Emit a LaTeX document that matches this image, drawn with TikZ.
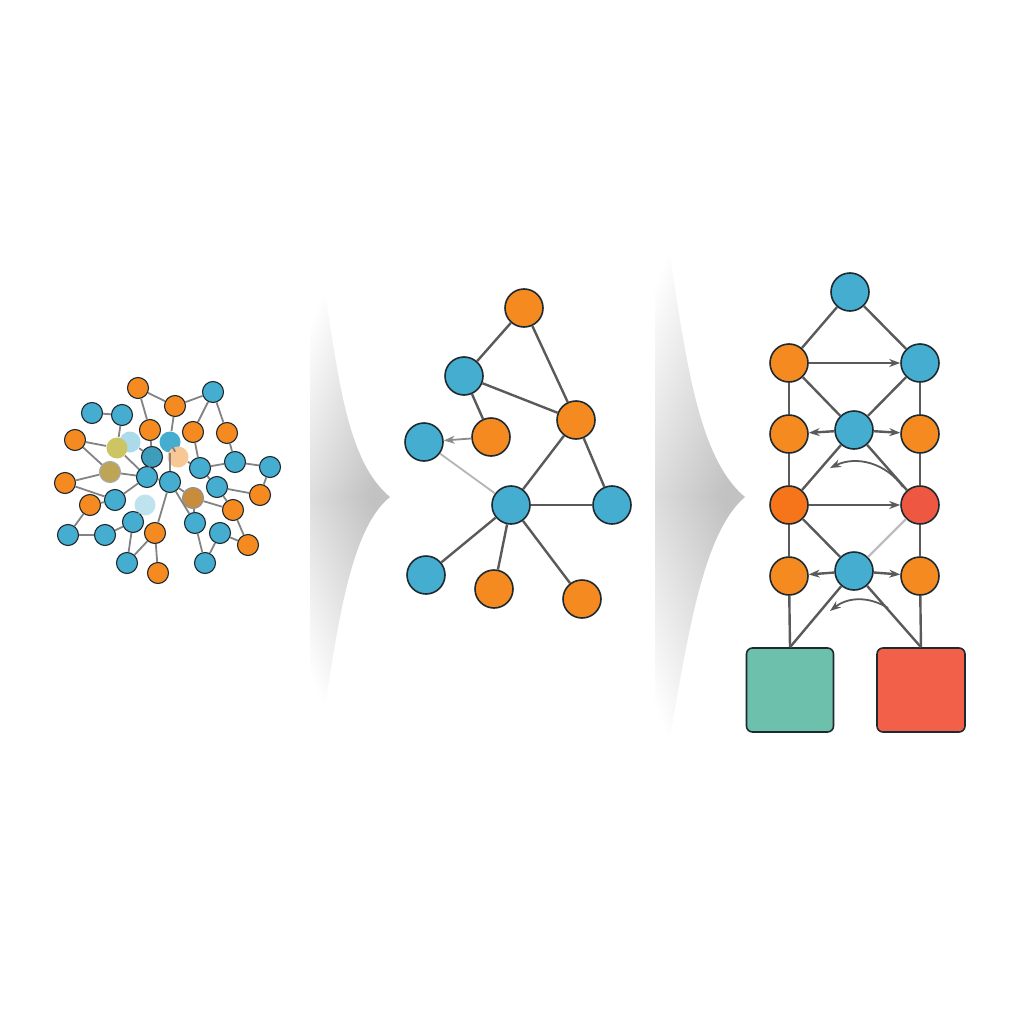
\documentclass[tikz,border=0pt]{standalone}
\usepackage{tikz}
\usepackage{xcolor}
\usetikzlibrary{arrows, arrows.meta, automata}
\definecolor{blu}{HTML}{45AED0}
\definecolor{orng}{HTML}{F58A20}
\definecolor{rd}{HTML}{EE5843}
\definecolor{sqred}{HTML}{F2604A}
\definecolor{tl}{HTML}{6CC0AC}
\definecolor{ol}{HTML}{1E2A30}
\definecolor{gr}{HTML}{5A5A5A}

\begin{document}
\begin{tikzpicture}[
            x = 1pt, y = -1pt, % one unit per pixel, y downwards
            > = {Stealth[length = 11pt, width = 8pt]}, % arrow head style
            semithick % line style
        ]

        \tikzstyle{every state}=[
            draw = ol,
            line width = 1.6pt,
            minimum size = 38pt,
            inner sep = 0pt
        ]
        \tikzstyle{cnode}=[state, minimum size = 21pt, line width = 1.1pt]
        \tikzstyle{link}=[draw = gr, line width = 2.4pt]
        \tikzstyle{thin link}=[draw = gr!75, line width = 1.8pt]
        \tikzstyle{fan top}=[shading = axis, top color = white, bottom color = black!24,
            shading angle = 68]
        \tikzstyle{fan bottom}=[shading = axis, top color = black!24, bottom color = white,
            shading angle = -68]

        % page
        \fill[white] (0,0) rectangle (1024,1024);
        \useasboundingbox (0,0) rectangle (1024,1024);

        % fading arrows
        \shade[fan top] (322,275) .. controls (338,370) and (345,460) .. (390,497)
            -- (310,497) -- (310,275) -- cycle;
        \shade[fan bottom] (390,497) .. controls (348,530) and (336,640) .. (322,725)
            -- (310,725) -- (310,497) -- cycle;
        \shade[fan top] (665,225) .. controls (684,340) and (694,455) .. (745,497)
            -- (655,497) -- (655,225) -- cycle;
        \shade[fan bottom] (745,497) .. controls (700,535) and (686,650) .. (665,765)
            -- (655,765) -- (655,497) -- cycle;

        % cluster
        \node[cnode, fill = orng] (c1) [at={(138,388)}] {};
        \node[cnode, fill = blu] (c2) [at={(213,392)}] {};
        \node[cnode, fill = orng] (c3) [at={(175,406)}] {};
        \node[cnode, fill = blu] (c4) [at={(92,413)}] {};
        \node[cnode, fill = blu] (c5) [at={(122,415)}] {};
        \node[cnode, fill = orng] (c6) [at={(150,430)}] {};
        \node[cnode, fill = orng] (c7) [at={(193,432)}] {};
        \node[cnode, fill = orng] (c8) [at={(227,433)}] {};
        \node[cnode, fill = orng] (c9) [at={(75,440)}] {};
        \node[cnode, fill = blu!45, draw = none] (c10) [at={(130,442)}] {};
        \node[cnode, fill = blu, draw = none] (c11) [at={(170,442)}] {};
        \node[cnode, fill = {rgb,255:red,205;green,196;blue,100}, draw = none] (c12) [at={(117,448)}] {};
        \node[cnode, fill = blu!90!black] (c13) [at={(152,457)}] {};
        \node[cnode, fill = {rgb,255:red,247;green,200;blue,150}, draw = none] (c14) [at={(178,457)}] {};
        \node[cnode, fill = blu] (c15) [at={(235,462)}] {};
        \node[cnode, fill = blu] (c16) [at={(270,467)}] {};
        \node[cnode, fill = blu] (c17) [at={(200,468)}] {};
        \node[cnode, fill = {rgb,255:red,190;green,165;blue,85}, draw = ol!40] (c18) [at={(110,472)}] {};
        \node[cnode, fill = blu] (c19) [at={(147,477)}] {};
        \node[cnode, fill = blu] (c20) [at={(170,482)}] {};
        \node[cnode, fill = orng] (c21) [at={(65,483)}] {};
        \node[cnode, fill = blu] (c22) [at={(217,487)}] {};
        \node[cnode, fill = orng] (c23) [at={(260,495)}] {};
        \node[cnode, fill = {rgb,255:red,200;green,140;blue,60}, draw = ol!50] (c24) [at={(193,498)}] {};
        \node[cnode, fill = blu] (c25) [at={(115,500)}] {};
        \node[cnode, fill = orng] (c26) [at={(90,505)}] {};
        \node[cnode, fill = blu!35, draw = none] (c27) [at={(145,505)}] {};
        \node[cnode, fill = orng] (c28) [at={(233,510)}] {};
        \node[cnode, fill = blu] (c29) [at={(133,522)}] {};
        \node[cnode, fill = blu] (c30) [at={(195,523)}] {};
        \node[cnode, fill = orng] (c31) [at={(155,533)}] {};
        \node[cnode, fill = blu] (c32) [at={(220,533)}] {};
        \node[cnode, fill = blu] (c33) [at={(68,535)}] {};
        \node[cnode, fill = blu] (c34) [at={(105,535)}] {};
        \node[cnode, fill = orng] (c35) [at={(248,545)}] {};
        \node[cnode, fill = blu] (c36) [at={(127,563)}] {};
        \node[cnode, fill = blu] (c37) [at={(205,563)}] {};
        \node[cnode, fill = orng] (c38) [at={(158,573)}] {};

        \path[thin link] (c1) edge (c6) (c1) edge (c3) (c2) edge (c3) (c2) edge (c7)
            (c2) edge (c8) (c3) edge (c11) (c4) edge (c5) (c5) edge (c12)
            (c6) edge (c13) (c9) edge (c12) (c9) edge (c18) (c10) edge (c13)
            (c11) edge (c14) (c7) edge (c17) (c8) edge (c15) (c14) edge (c17)
            (c17) edge (c15) (c15) edge (c16) (c17) edge (c22) (c13) edge (c19)
            (c12) edge (c19) (c18) edge (c19) (c21) edge (c18) (c19) edge (c20)
            (c20) edge (c24) (c22) edge (c23) (c22) edge (c28) (c24) edge (c30)
            (c24) edge (c28) (c19) edge (c25) (c25) edge (c26) (c26) edge (c33)
            (c33) edge (c34) (c34) edge (c29) (c29) edge (c36) (c31) edge (c36)
            (c31) edge (c38) (c30) edge (c37) (c32) edge (c37) (c32) edge (c35)
            (c28) edge (c35) (c20) edge (c31) (c27) edge (c29) (c20) edge (c30)
            (c21) edge (c25) (c16) edge (c23) (c11) edge (c20);

        % middle graph
        \node[state, fill = orng] (mtop) [at={(524,308)}] {};
        \node[state, fill = blu] (mul) [at={(464,376)}] {};
        \node[state, fill = orng] (mr) [at={(576,420)}] {};
        \node[state, fill = blu] (mfl) [at={(424,442)}] {};
        \node[state, fill = orng] (mm) [at={(491,437)}] {};
        \node[state, fill = blu] (mc) [at={(511,505)}] {};
        \node[state, fill = blu] (mrt) [at={(612,505)}] {};
        \node[state, fill = blu] (mbl) [at={(426,575)}] {};
        \node[state, fill = orng] (mb) [at={(494,589)}] {};
        \node[state, fill = orng] (mbr) [at={(582,599)}] {};

        \path[link] (mtop) edge (mul) (mtop) edge (mr) (mul) edge (mr) (mul) edge (mm)
            (mr) edge (mc) (mr) edge (mrt) (mc) edge (mrt) (mc) edge (mbl)
            (mc) edge (mb) (mc) edge (mbr);
        \path[link, draw = gr!45, line width = 1.8pt] (mfl) edge (mc);
        \path[link, draw = gr!70, line width = 1.8pt, ->] (mm) edge (mfl);

        % right structure
        \node[state, fill = blu] (rtop) [at={(850,292)}] {};
        \node[state, fill = orng] (r1l) [at={(789,363)}] {};
        \node[state, fill = blu] (r1r) [at={(920,363)}] {};
        \node[state, fill = orng] (r2l) [at={(789,434)}] {};
        \node[state, fill = blu] (r2c) [at={(854,430)}] {};
        \node[state, fill = orng] (r2r) [at={(920,434)}] {};
        \node[state, fill = orng!85!red] (r3l) [at={(789,505)}] {};
        \node[state, fill = rd] (r3r) [at={(920,505)}] {};
        \node[state, fill = orng] (r4l) [at={(789,576)}] {};
        \node[state, fill = blu] (r4c) [at={(854,571)}] {};
        \node[state, fill = orng] (r4r) [at={(920,576)}] {};
        \node[draw = ol, line width = 1.6pt, rounded corners = 6pt, fill = tl,
            minimum width = 87pt, minimum height = 84pt] (tsq) [at={(790,690)}] {};
        \node[draw = ol, line width = 1.6pt, rounded corners = 6pt, fill = sqred,
            minimum width = 88pt, minimum height = 84pt] (rsq) [at={(921,690)}] {};

        \path[link] (rtop) edge (r1l) (rtop) edge (r1r)
            (r1l) edge (r2l) (r1r) edge (r2r) (r1l) edge (r2c) (r1r) edge (r2c)
            (r2l) edge (r3l) (r2r) edge (r3r) (r2c) edge (r3l) (r2c) edge (r3r)
            (r3l) edge (r4l) (r3r) edge (r4r) (r3l) edge (r4c)
            (r4l) edge (tsq.north) (r4r) edge (rsq.north)
            (r4c) edge (tsq.north) (r4c) edge (rsq.north);
        \path[link, draw = gr!40] (r3r) edge (r4c);
        \path[link, ->] (r1l) edge (r1r) (r3l) edge (r3r)
            (r2c) edge (r2l) (r2c) edge (r2r) (r4c) edge (r4l) (r4c) edge (r4r);

        \coordinate (bow1s) at (903,487);
        \coordinate (bow1e) at (830,468);
        \coordinate (bow2s) at (888,608);
        \coordinate (bow2e) at (830,611);
        \draw[link, line width = 1.8pt, ->] (bow1s) to[bend right = 40] (bow1e);
        \draw[link, line width = 1.8pt, ->] (bow2s) to[bend right = 35] (bow2e);
    \end{tikzpicture}
\end{document}
